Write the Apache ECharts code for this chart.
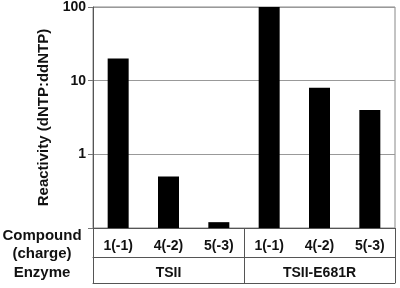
<!DOCTYPE html>
<html>
<head>
<meta charset="utf-8">
<script src="https://cdn.jsdelivr.net/npm/echarts@6/dist/echarts.min.js"></script>
<style>
  html, body { margin: 0; padding: 0; background: #fff; }
  #chart { width: 400px; height: 288px; }
</style>
</head>
<body>
<div id="chart"></div>
<script>
// 数据
const compounds = ['1(-1)', '4(-2)', '5(-3)', '1(-1)', '4(-2)', '5(-3)']
const enzymes = ['TSII', 'TSII-E681R']
const reactivity = [20, 0.5, 0.12, 100, 8, 4]
const axisMin = 0.1

const font = 'Arial, "Liberation Sans", Helvetica, sans-serif'
const lineColor = '#555'

// 对数轴柱子默认从1开始，用堆叠把底部放到axisMin
const baseData = reactivity.map(() => axisMin)
const topData = reactivity.map(v => v - axisMin)

const chart = echarts.init(document.getElementById('chart'))
chart.setOption({
  animation: false,
  grid: {
    left: 93, right: 5, top: 5, bottom: 60,
    show: true, borderColor: '#888', borderWidth: 1
  },
  xAxis: [
    {
      type: 'category',
      data: compounds,
      axisLine: { lineStyle: { color: lineColor } },
      axisTick: { show: false },
      axisLabel: { margin: 11, fontFamily: font, fontWeight: 'bold', fontSize: 14, color: '#111' }
    },
    {
      type: 'category',
      data: enzymes,
      position: 'bottom',
      offset: 29,
      axisLine: { lineStyle: { color: lineColor } },
      axisTick: { show: false },
      axisLabel: { margin: 9, fontFamily: font, fontWeight: 'bold', fontSize: 14, color: '#111' }
    },
    {
      // 表格底线和竖线
      type: 'category',
      data: enzymes,
      position: 'bottom',
      offset: 55,
      axisLine: { lineStyle: { color: lineColor } },
      axisTick: { show: true, inside: true, length: 55, interval: 0, lineStyle: { color: lineColor } },
      axisLabel: { show: false }
    }
  ],
  yAxis: {
    type: 'log',
    logBase: 10,
    min: axisMin,
    max: 100,
    name: 'Reactivity (dNTP:ddNTP)',
    nameLocation: 'middle',
    nameGap: 37,
    nameTextStyle: { fontFamily: font, fontWeight: 'bold', fontSize: 15, color: '#111' },
    axisLine: { show: true, lineStyle: { color: lineColor } },
    axisTick: { show: true, length: 5, lineStyle: { color: '#777' } },
    axisLabel: {
      margin: 7,
      fontFamily: font, fontWeight: 'bold', fontSize: 14, color: '#111',
      formatter: v => (v < 0.5 ? '' : String(Math.round(v)))
    },
    splitLine: { show: true, lineStyle: { color: '#999' } }
  },
  graphic: [
    {
      type: 'text', x: 42, y: 227,
      style: { text: 'Compound\n(charge)', align: 'center', verticalAlign: 'top', fill: '#111', font: 'bold 15px ' + font, lineHeight: 18 }
    },
    {
      type: 'text', x: 42, y: 265,
      style: { text: 'Enzyme', align: 'center', verticalAlign: 'top', fill: '#111', font: 'bold 15px ' + font }
    }
  ],
  series: [
    {
      type: 'bar',
      stack: 'r',
      data: baseData,
      barWidth: 21,
      itemStyle: { color: 'rgba(0,0,0,0)' },
      silent: true
    },
    {
      type: 'bar',
      stack: 'r',
      data: topData,
      barWidth: 21,
      itemStyle: { color: '#000' }
    }
  ]
})
</script>
</body>
</html>
